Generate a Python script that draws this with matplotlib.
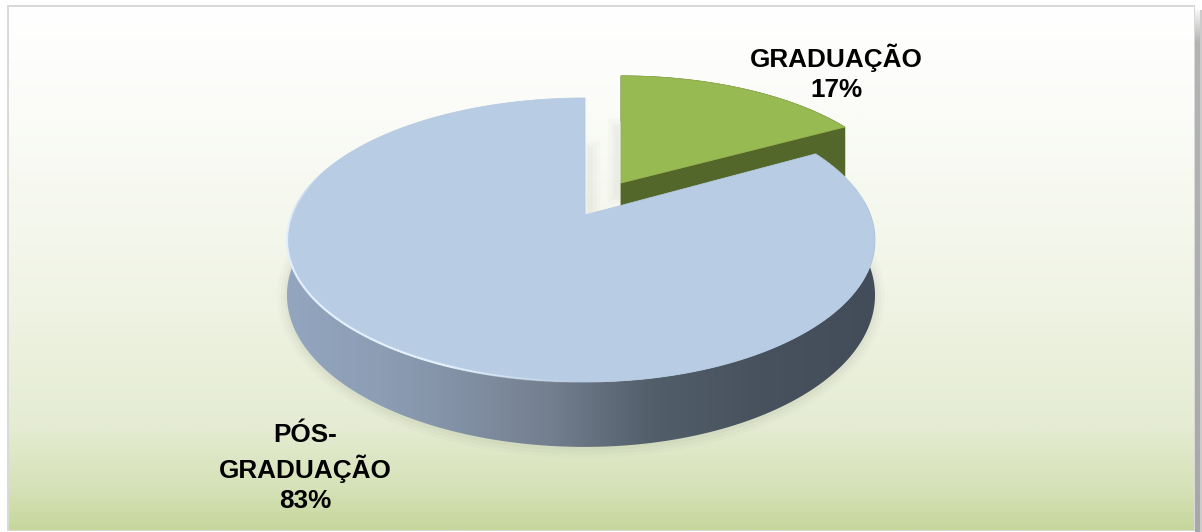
import numpy as np
import matplotlib
matplotlib.use('Agg')
import matplotlib.pyplot as plt
from matplotlib.collections import LineCollection
from matplotlib.colors import LinearSegmentedColormap, to_rgb
from matplotlib.patches import Polygon, Rectangle

plt.rcParams['font.family'] = ['Liberation Sans', 'DejaVu Sans']

categories = ['GRADUAÇÃO', 'PÓS-\nGRADUAÇÃO']
shares = [17, 83]

W, H = 1202, 532
K = 0.176            # perspective foreshortening of the disc
DEPTH = 53.5         # thickness of the disc
RX_LEFT, RX_RIGHT = 293.4, 285.5
RY = 137.6


def project(theta, origin, sx=1.0, sy=1.0):
    """Map clockwise angles (deg from 12 o'clock) on the disc to pixels."""
    t = np.radians(theta)
    x, y = np.sin(t), np.cos(t)
    rx = np.where(x < 0, RX_LEFT, RX_RIGHT)
    w = 1 + K * y
    return np.column_stack((origin[0] + sx * rx * x / w,
                            origin[1] - sy * RY * y / w)), DEPTH / w


def arc(a, b, origin, sx=1.0, sy=1.0):
    pts, d = project(np.linspace(a, b, 240), origin, sx, sy)
    return pts, pts + np.column_stack((np.zeros_like(d), d))


def gradient(ax, stops, extent, vertical, clip=None, zorder=1):
    cmap = LinearSegmentedColormap.from_list('g', stops)
    ramp = np.linspace(0, 1, 512)
    ramp = ramp[:, None] if vertical else ramp[None, :]
    im = ax.imshow(ramp, cmap=cmap, vmin=0, vmax=1, extent=extent,
                   aspect='auto', origin='upper', zorder=zorder,
                   interpolation='bilinear')
    if clip is not None:
        im.set_clip_path(clip)
    return im


fig = plt.figure(figsize=(W / 100, H / 100), dpi=100, facecolor='white')
ax = fig.add_axes([0, 0, 1, 1])
ax.axis('off')

# frame and drop shadow of the chart area
gradient(ax, [(0, '#f4f4f4'), (0.06, '#b4b4b4'), (1, '#a8a8a8')],
         (1195, 1200, H, 10), True, zorder=0)
ax.add_patch(Rectangle((1200, 10), 2, H, fc='#cccccc', ec='none', zorder=0))
ax.add_patch(Rectangle((7, 5), 1188, 526, fc='#d9d9d9', ec='none', zorder=0.5))
gradient(ax, [(0, '#ffffff'), (0.2, '#fbfcf8'), (0.55, '#f0f4e5'),
              (0.8, '#e5ecd3'), (0.92, '#d6e2b8'), (1, '#c6d79c')],
         (9, 1194, 530, 7), True, zorder=1)

split = 360 * shares[0] / sum(shares)
big_origin = (585, 215)
green_origin = (621, 183)
green_sx, green_sy = 0.97, 0.915

big_top, big_low = arc(split, 360, big_origin)
green_top, green_low = arc(0, split, green_origin, green_sx, green_sy)

# soft shadow below the disc and along the gap between the slices
for lw, alpha in ((14, 0.025), (9, 0.03), (4, 0.04)):
    ax.add_patch(Polygon(big_low + [0, 1], closed=False, fill=False, ec='#55604a',
                         lw=lw, alpha=alpha, zorder=2))
    ax.plot([big_origin[0] + 5] * 2, [big_origin[1], big_origin[1] - 65],
            color='#777777', lw=lw, alpha=alpha, zorder=2)
    ax.plot([green_origin[0] - 4] * 2, [green_origin[1] + 10, green_origin[1] - 55],
            color='#777777', lw=lw, alpha=alpha, zorder=2)

# green slice: rim, cut face and top
ax.add_patch(Polygon(np.vstack((green_top, green_low[::-1])),
                     fc='#556b2c', ec='#556b2c', lw=0.6, zorder=3))
cut_drop = green_low[-1, 1] - green_top[-1, 1]
cut_face = [green_origin, green_top[-1], green_low[-1],
            (green_origin[0], green_origin[1] + cut_drop)]
ax.add_patch(Polygon(cut_face, fc='#526729', ec='#526729', lw=0.6, zorder=3))
ax.add_patch(Polygon(np.vstack(([green_origin], green_top)),
                     fc='#98ba52', ec='#93b350', lw=0.6, zorder=4))

# blue slice: shaded rim, then top face
wall_patch = Polygon(np.vstack((big_top, big_low[::-1])), fc='none', ec='none', zorder=5)
ax.add_patch(wall_patch)
gradient(ax, [(0, '#93a6bf'), (0.16, '#8c9db4'), (0.30, '#8290a4'),
              (0.44, '#747f90'), (0.53, '#646f7e'), (0.62, '#535e6b'),
              (0.8, '#47525e'), (1, '#424d59')],
         (287, 877, H, 200), False, clip=wall_patch, zorder=5)
ax.add_patch(Polygon(np.vstack(([big_origin], big_top)),
                     fc='#b8cce4', ec='#b5cae2', lw=0.6, zorder=6))

# pale highlight where the top face meets the rim on the lit side
hl, _ = project(np.linspace(180, 290, 160), big_origin)
segments = np.stack((hl[:-1], hl[1:]), axis=1)
rim_colors = np.zeros((len(segments), 4))
rim_colors[:, :3] = to_rgb('#e6f2fd')
rim_colors[:, 3] = np.clip(np.sin(np.linspace(0, np.pi, len(segments))) * 1.6, 0, 1)
ax.add_collection(LineCollection(segments, colors=rim_colors, linewidths=1.6, zorder=7))

# data labels
label_pos = [(836, 73), (305, 468)]
for name, share, (lx, ly) in zip(categories, shares, label_pos):
    ax.text(lx, ly, f'{name}\n{share}%', ha='center', va='center', ma='center',
            fontsize=18.8, fontweight='bold', color='black', linespacing=1.33, zorder=8)

ax.set_xlim(0, W)
ax.set_ylim(H, 0)
fig.savefig('out.png', dpi=100)
